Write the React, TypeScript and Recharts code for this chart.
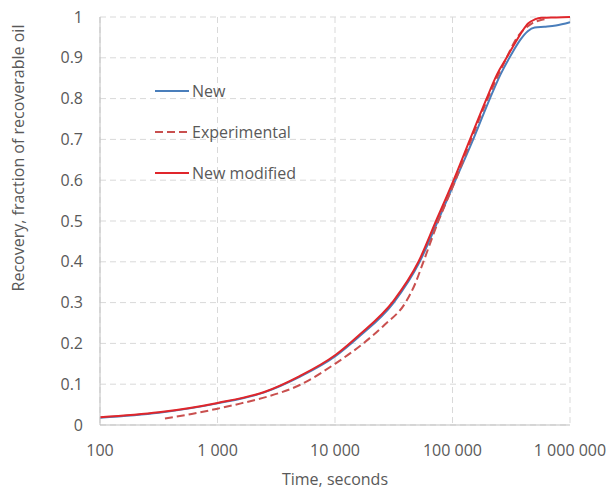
import React from 'react';
import { LineChart, Line, XAxis, YAxis, CartesianGrid, Legend } from 'recharts';

// time in seconds, recovery as fraction of recoverable oil
const newTimes = [100, 316, 1000, 2500, 5000, 10000, 15800, 31600, 52500, 75000, 106000, 150000, 208000, 257000, 319000, 380000, 437000, 501000, 603000, 759000, 1000000];
const newValues = [0.018, 0.03, 0.053, 0.08, 0.118, 0.168, 0.215, 0.3, 0.4, 0.5, 0.6, 0.7, 0.8, 0.86, 0.91, 0.945, 0.965, 0.974, 0.976, 0.979, 0.987];

const expTimes = [357, 603, 1000, 1585, 2630, 5012, 10000, 17400, 26300, 39800, 47900, 56200, 75900, 106000, 144500, 199500, 288400, 354800, 426600, 472000, 575400, 616600];
const expValues = [0.016, 0.027, 0.04, 0.053, 0.069, 0.098, 0.15, 0.2, 0.245, 0.3, 0.345, 0.398, 0.5, 0.6, 0.7, 0.8, 0.9, 0.95, 0.975, 0.984, 0.993, 0.995];

const modTimes = [100, 316, 1000, 2500, 5000, 10000, 15800, 31600, 51300, 72400, 102300, 140900, 195000, 239900, 288400, 346700, 398100, 439500, 501200, 575400, 758600, 1000000];
const modValues = [0.019, 0.031, 0.054, 0.081, 0.12, 0.171, 0.219, 0.305, 0.4, 0.5, 0.6, 0.7, 0.8, 0.86, 0.9, 0.94, 0.968, 0.984, 0.994, 0.998, 0.999, 1.0];

const xTicks = [100, 1000, 10000, 100000, 1000000];
const yTicks = [0, 0.1, 0.2, 0.3, 0.4, 0.5, 0.6, 0.7, 0.8, 0.9, 1];

const toPoints = (times: number[], values: number[]) => times.map((t, i) => ({ t, v: values[i] }));
const newData = toPoints(newTimes, newValues);
const expData = toPoints(expTimes, expValues);
const modData = toPoints(modTimes, modValues);

const BLUE = '#4a7ebb';
const DASH_RED = '#c9504f';
const RED = '#e0262b';
const TEXT = '#595959';
const FONT = '"Open Sans", sans-serif';

const fmtTime = (v: number) => String(v).replace(/\B(?=(\d{3})+(?!\d))/g, ' ');

const legendItems = [
  { name: 'New', color: BLUE, dash: undefined },
  { name: 'Experimental', color: DASH_RED, dash: '8 4' },
  { name: 'New modified', color: RED, dash: undefined },
];

function ChartLegend() {
  return (
    <div style={{ fontFamily: FONT, fontSize: 16, color: TEXT }}>
      {legendItems.map((item) => (
        <div key={item.name} style={{ display: 'flex', alignItems: 'center', height: 41 }}>
          <svg width={38} height={10}>
            <line x1={1} y1={5} x2={35} y2={5} stroke={item.color} strokeWidth={2} strokeDasharray={item.dash} />
          </svg>
          <span>{item.name}</span>
        </div>
      ))}
    </div>
  );
}

// the axis title sits above the middle of the plot, as in the original
function YTitle() {
  return (
    <text x={18} y={158} transform="rotate(-90 18 158)" textAnchor="middle" dominantBaseline="central"
      fill={TEXT} fontSize={16} fontFamily={FONT}>
      Recovery, fraction of recoverable oil
    </text>
  );
}

export default function App() {
  return (
    <div style={{ position: 'absolute', left: 0, top: 0, background: '#fff' }}>
      <LineChart width={607} height={489} margin={{ top: 17, right: 37, left: 40, bottom: 34 }}>
        <CartesianGrid stroke="#d9d9d9" strokeDasharray="6 4" />
        <XAxis
          dataKey="t"
          type="number"
          scale="log"
          domain={[100, 1000000]}
          ticks={xTicks}
          tickFormatter={fmtTime}
          allowDuplicatedCategory={false}
          stroke="#bfbfbf"
          tickLine={false}
          tickSize={0}
          tickMargin={20}
          height={30}
          tick={{ fill: TEXT, fontSize: 16, fontFamily: FONT }}
          label={{ value: 'Time, seconds', position: 'bottom', offset: 19, fill: TEXT, fontSize: 16, fontFamily: FONT }}
        />
        <YAxis
          type="number"
          domain={[0, 1]}
          ticks={yTicks}
          stroke="#bfbfbf"
          tickLine={false}
          tickSize={0}
          tickMargin={17}
          width={60}
          tick={{ fill: TEXT, fontSize: 16, fontFamily: FONT }}
          label={<YTitle />}
        />
        <Legend
          layout="vertical"
          align="center"
          verticalAlign="middle"
          wrapperStyle={{ left: 154, top: 70, width: 'auto', height: 'auto' }}
          content={() => <ChartLegend />}
        />
        <Line data={newData} dataKey="v" name="New" type="monotone" stroke={BLUE} strokeWidth={2} dot={false} isAnimationActive={false} />
        <Line data={expData} dataKey="v" name="Experimental" type="monotone" stroke={DASH_RED} strokeWidth={2} strokeDasharray="8 4" dot={false} isAnimationActive={false} />
        <Line data={modData} dataKey="v" name="New modified" type="monotone" stroke={RED} strokeWidth={2} dot={false} isAnimationActive={false} />
      </LineChart>
    </div>
  );
}
